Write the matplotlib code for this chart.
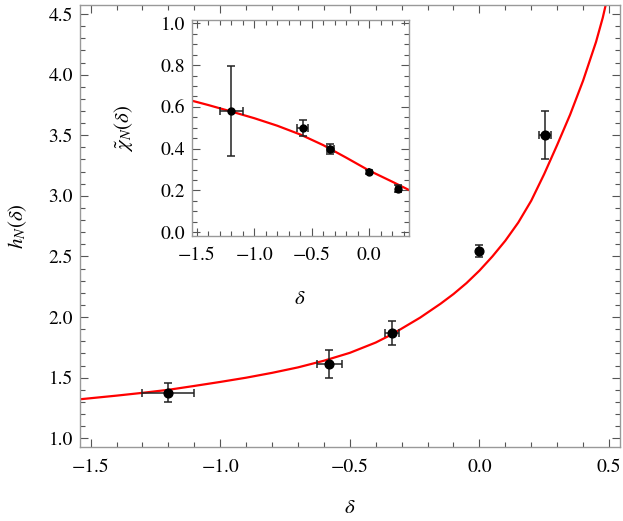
import matplotlib
matplotlib.use("Agg")
import matplotlib.pyplot as plt
from matplotlib.ticker import MultipleLocator

plt.rcParams['font.family'] = ['STIXGeneral', 'Liberation Serif', 'DejaVu Serif']
plt.rcParams['mathtext.fontset'] = 'stix'

# main panel: h_N(delta) data points
delta = [-1.2, -0.58, -0.337, 0.0, 0.253]
h_val = [1.376, 1.613, 1.866, 2.545, 3.50]
h_xerr = [0.10, 0.048, 0.027, 0.0, 0.022]
h_yerr = [0.08, 0.118, 0.10, 0.05, 0.20]

# main panel: fitted curve
curve_d = [-1.541, -1.4, -1.3, -1.2, -1.1, -1.0, -0.9, -0.8, -0.7, -0.6,
           -0.5, -0.4, -0.34, -0.3, -0.229, -0.15, -0.1, -0.05, 0.0, 0.05,
           0.1, 0.15, 0.2, 0.25, 0.3, 0.35, 0.4, 0.45, 0.476, 0.49]
curve_h = [1.322, 1.352, 1.375, 1.400, 1.432, 1.465, 1.500, 1.540, 1.585, 1.640,
           1.705, 1.790, 1.855, 1.905, 1.995, 2.11, 2.19, 2.28, 2.383, 2.50,
           2.63, 2.78, 2.96, 3.18, 3.42, 3.67, 3.95, 4.27, 4.47, 4.60]

# inset: chi_N(delta)
chi_val = [0.582, 0.499, 0.399, 0.29, 0.209]
chi_xerr = [0.10, 0.05, 0.03, 0.0, 0.02]
chi_yerr = [0.215, 0.037, 0.024, 0.01, 0.015]

inset_d = [-1.544, -1.4, -1.2, -1.0, -0.8, -0.6, -0.4, -0.2, 0.0, 0.2, 0.343]
inset_chi = [0.630, 0.609, 0.578, 0.546, 0.510, 0.468, 0.417, 0.357, 0.295,
             0.242, 0.203]

fig = plt.figure(figsize=(6.23, 5.21), dpi=100)


def style_axes(ax, xmin, ymin, fs=14):
    for sp in ax.spines.values():
        sp.set_color('#999999')
        sp.set_linewidth(1.0)
    ax.xaxis.set_major_locator(MultipleLocator(0.5))
    ax.xaxis.set_minor_locator(MultipleLocator(xmin))
    ax.yaxis.set_minor_locator(MultipleLocator(ymin))
    ax.tick_params(which='both', direction='in', top=True, right=True,
                   color='#555555', labelsize=fs)
    ax.tick_params(which='major', length=6, width=0.8)
    ax.tick_params(which='minor', length=3.5, width=0.8)
    ax.tick_params(axis='x', pad=8)
    ax.tick_params(axis='y', pad=5)
    ax.xaxis.set_major_formatter(lambda v, p: f"{v:.1f}".replace('-', '\u2212'))
    ax.yaxis.set_major_formatter(lambda v, p: f"{v:.1f}")


ax = fig.add_axes([0.1284, 0.1415, 0.8668, 0.8495])
ax.plot(curve_d, curve_h, color='red', lw=1.6, zorder=2)
ax.errorbar(delta, h_val, xerr=h_xerr, yerr=h_yerr, fmt='o', color='black',
            ms=6.3, ecolor='#222222', elinewidth=1.1, capsize=3.2,
            capthick=1.1, zorder=3)
ax.set_xlim(-1.541, 0.5425)
ax.set_ylim(0.926, 4.577)
ax.yaxis.set_major_locator(MultipleLocator(0.5))
style_axes(ax, 0.1, 0.1)
ax.set_xlabel(r'$\delta$', fontsize=15, labelpad=16)
ax.set_ylabel(r'$h_N(\delta)$', fontsize=15, labelpad=14)

axi = fig.add_axes([0.3077, 0.547, 0.3483, 0.4146])
axi.plot(inset_d, inset_chi, color='red', lw=1.6, zorder=2)
axi.errorbar(delta, chi_val, xerr=chi_xerr, yerr=chi_yerr, fmt='o',
             color='black', ms=5, ecolor='#222222', elinewidth=1.1,
             capsize=3.0, capthick=1.1, zorder=3)
axi.set_xlim(-1.544, 0.343)
axi.set_ylim(-0.018, 1.016)
axi.yaxis.set_major_locator(MultipleLocator(0.2))
style_axes(axi, 0.1, 0.05)
axi.set_xlabel(r'$\delta$', fontsize=15, labelpad=18)
axi.set_ylabel(r'$\tilde{\chi}_N(\delta)$', fontsize=15, labelpad=18)

fig.savefig('out.png', dpi=100)
